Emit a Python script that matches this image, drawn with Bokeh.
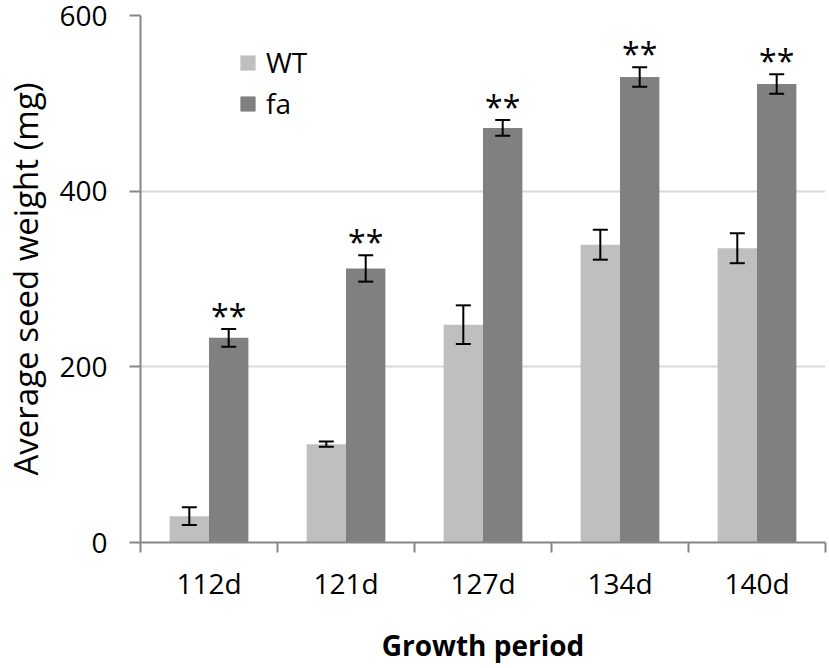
from bokeh.plotting import figure
from bokeh.models import (ColumnDataSource, Range1d, FixedTicker, Whisker, TeeHead,
                          Legend, LegendItem)
from bokeh.core.properties import value
from bokeh.embed import file_html
from bokeh.resources import INLINE

periods = ["112d", "121d", "127d", "134d", "140d"]
wt_mean = [30, 112, 248, 339, 335]
wt_err = [10, 3, 22, 17, 17]
fa_mean = [233, 312, 472, 530, 522]
fa_err = [10, 15, 9, 11, 11]
signif = ["**", "**", "**", "**", "**"]

WT_COLOR = "#bfbfbf"
FA_COLOR = "#808080"
AXIS_COLOR = "#868686"
FONT = "Open Sans"
BAR_W = 0.2875

idx = list(range(len(periods)))
centers = [i + 0.5 for i in idx]
wt_x = [c - BAR_W / 2 for c in centers]
fa_x = [c + BAR_W / 2 for c in centers]

wt_src = ColumnDataSource(dict(x=wt_x, top=wt_mean,
                               upper=[m + e for m, e in zip(wt_mean, wt_err)],
                               lower=[m - e for m, e in zip(wt_mean, wt_err)]))
fa_src = ColumnDataSource(dict(x=fa_x, top=fa_mean,
                               upper=[m + e for m, e in zip(fa_mean, fa_err)],
                               lower=[m - e for m, e in zip(fa_mean, fa_err)],
                               star=signif))

p = figure(width=827, height=666, output_backend="svg", toolbar_location=None,
           x_range=Range1d(0, len(periods)), y_range=Range1d(0, 600),
           min_border_left=138, min_border_right=2, min_border_top=15, min_border_bottom=121)
p.outline_line_color = None
p.background_fill_color = "white"
p.border_fill_color = "white"

r_wt = p.vbar(x="x", top="top", width=BAR_W, source=wt_src, fill_color=WT_COLOR, line_color=None)
r_fa = p.vbar(x="x", top="top", width=BAR_W, source=fa_src, fill_color=FA_COLOR, line_color=None)

for src in (wt_src, fa_src):
    w = Whisker(base="x", upper="upper", lower="lower", source=src, dimension="height",
                line_color="black", line_width=2, level="annotation",
                upper_head=TeeHead(size=15, line_color="black", line_width=2),
                lower_head=TeeHead(size=15, line_color="black", line_width=2))
    p.add_layout(w)

p.text(x="x", y="upper", text="star", source=fa_src, text_align="center",
       text_baseline="bottom", y_offset=8, text_font=value(FONT), text_font_size="32px",
       text_color="black")

# x axis
p.xaxis.ticker = FixedTicker(ticks=centers, minor_ticks=list(range(len(periods) + 1)))
p.xaxis.major_label_overrides = {c: lab for c, lab in zip(centers, periods)}
p.xaxis.major_tick_line_color = None
p.xaxis.major_tick_out = 0
p.xaxis.major_tick_in = 0
p.xaxis.minor_tick_line_color = AXIS_COLOR
p.xaxis.minor_tick_line_width = 2
p.xaxis.minor_tick_out = 10
p.xaxis.minor_tick_in = 0
p.xaxis.major_label_standoff = 11
p.xaxis.axis_label = "Growth period"
p.xaxis.axis_label_standoff = 21
p.xaxis.axis_label_text_font_style = "bold"

# y axis
p.yaxis.ticker = FixedTicker(ticks=[0, 200, 400, 600])
p.yaxis.minor_tick_line_color = None
p.yaxis.major_tick_out = 11
p.yaxis.major_tick_in = 0
p.yaxis.major_tick_line_color = AXIS_COLOR
p.yaxis.major_tick_line_width = 2
p.yaxis.major_label_standoff = 22
p.yaxis.axis_label = "Average seed weight (mg)"
p.yaxis.axis_label_standoff = 8
p.yaxis.axis_label_text_font_style = "normal"

for ax in (p.xaxis, p.yaxis):
    ax.axis_line_color = AXIS_COLOR
    ax.axis_line_width = 2
    ax.major_label_text_font = FONT
    ax.major_label_text_font_size = "28px"
    ax.major_label_text_color = "black"
    ax.axis_label_text_font = FONT
    ax.axis_label_text_color = "black"
p.xaxis.axis_label_text_font_size = "28px"
p.yaxis.axis_label_text_font_size = "33px"

p.xgrid.grid_line_color = None
p.ygrid.ticker = FixedTicker(ticks=[200, 400, 600])
p.ygrid.grid_line_color = "#d9d9d9"
p.ygrid.grid_line_width = 2

legend = Legend(items=[LegendItem(label="WT", renderers=[r_wt]),
                       LegendItem(label="fa", renderers=[r_fa])],
                location=(98, 420), padding=0, margin=0, spacing=3,
                glyph_width=19, glyph_height=19, label_height=19, label_standoff=9,
                label_text_font=FONT, label_text_font_size="28px",
                label_text_color="black", border_line_color=None,
                background_fill_alpha=0)
p.add_layout(legend, "center")

open("out.html", "w").write(file_html(p, INLINE))
